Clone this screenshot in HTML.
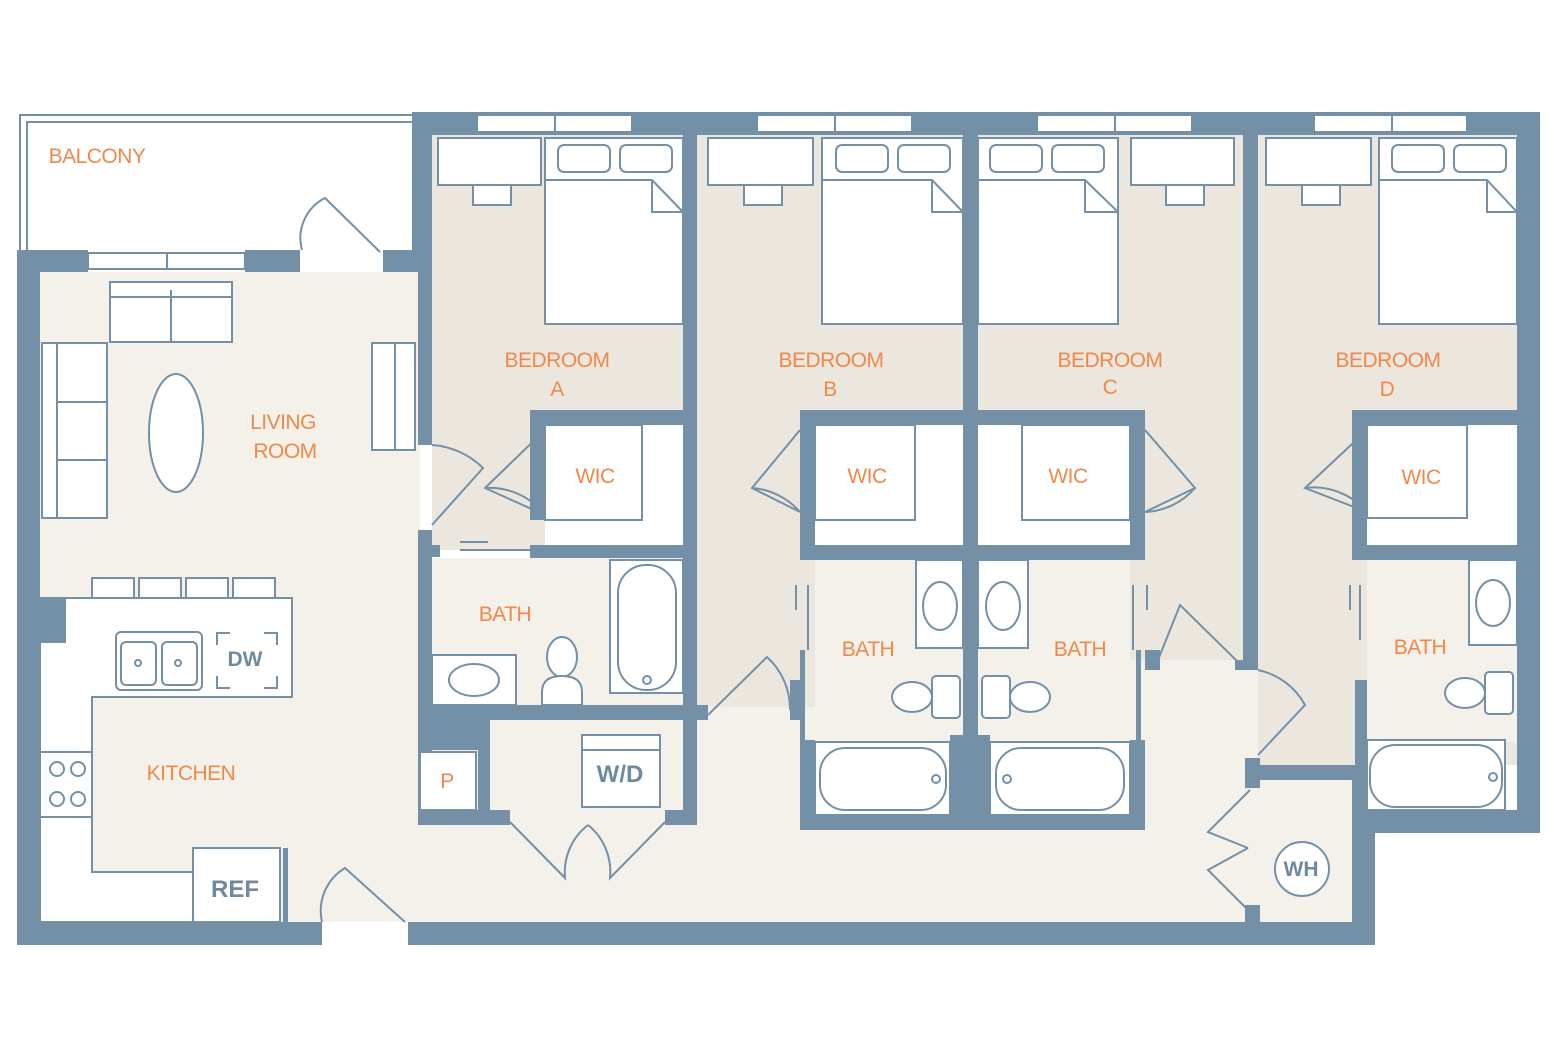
<!DOCTYPE html>
<html><head><meta charset="utf-8"><style>
html,body{margin:0;padding:0;background:#fff;}
svg{display:block}
text{font-family:"Liberation Sans",sans-serif;}
.o{fill:#f0884a;font-size:21px;text-anchor:middle;letter-spacing:-0.5px}
.b{fill:#6f8aa0;font-size:24px;font-weight:bold;text-anchor:middle}
.l{fill:none;stroke:#7490a6;stroke-width:2}
.lw{fill:#fff;stroke:#7490a6;stroke-width:2}
.w{fill:#7490a6}
</style></head><body>
<svg width="1554" height="1058" viewBox="0 0 1554 1058" xmlns="http://www.w3.org/2000/svg">
<!-- balcony -->
<path class="l" d="M20,250 V115 H412 M27,250 V122 H412" />
<!-- floors -->
<rect x="40" y="272" width="380" height="650" fill="#f3f1ea"/>
<rect x="418" y="650" width="940" height="272" fill="#f3f1ea"/>
<rect x="432" y="135" width="252" height="412" fill="#ece7de"/>
<rect x="432" y="420" width="110" height="130" fill="#ece7de"/>
<rect x="697" y="135" width="266" height="572" fill="#ece7de"/>
<rect x="978" y="135" width="266" height="525" fill="#ece7de"/>
<rect x="1258" y="135" width="260" height="630" fill="#ece7de"/>
<rect x="1145" y="560" width="100" height="100" fill="#ece7de"/>
<!-- baths / closets -->
<rect x="432" y="558" width="251" height="148" fill="#f3f1ea"/>
<rect x="490" y="720" width="193" height="92" fill="#f3f1ea"/>
<rect x="815" y="560" width="148" height="182" fill="#f3f1ea"/>
<rect x="978" y="560" width="152" height="182" fill="#f3f1ea"/>
<rect x="1367" y="560" width="150" height="182" fill="#f3f1ea"/>
<rect x="1258" y="778" width="94" height="144" fill="#f3f1ea"/>
<!-- WICs -->
<rect x="545" y="425" width="138" height="120" fill="#fff"/><rect x="545" y="425" width="97" height="95" fill="#ece7de" class="l"/>
<rect x="815" y="425" width="148" height="120" fill="#fff"/><rect x="815" y="425" width="100" height="95" fill="#ece7de" class="l"/>
<rect x="978" y="425" width="152" height="120" fill="#fff"/><rect x="1022" y="425" width="108" height="95" fill="#ece7de" class="l"/>
<rect x="1367" y="425" width="150" height="120" fill="#fff"/><rect x="1367" y="425" width="100" height="93" fill="#ece7de" class="l"/>
<!-- walls -->
<g class="w">
<rect x="17" y="250" width="71" height="22"/><rect x="245" y="250" width="55" height="22"/><rect x="383" y="250" width="49" height="22"/>
<rect x="17" y="250" width="23" height="695"/>
<rect x="17" y="922" width="305" height="23"/><rect x="408" y="922" width="967" height="23"/>
<rect x="40" y="597" width="25" height="45"/>
<rect x="412" y="112" width="1128" height="23"/>
<rect x="412" y="112" width="20" height="160"/><rect x="418" y="272" width="14" height="173"/>
<rect x="418" y="530" width="14" height="295"/><rect x="418" y="545" width="22" height="12"/>
<rect x="530" y="545" width="153" height="13"/>
<rect x="530" y="410" width="15" height="110"/><rect x="530" y="410" width="153" height="15"/>
<rect x="683" y="135" width="14" height="690"/>
<rect x="418" y="705" width="290" height="15"/>
<rect x="418" y="705" width="72" height="45"/><rect x="478" y="705" width="12" height="120"/>
<rect x="418" y="810" width="92" height="15"/><rect x="665" y="810" width="32" height="15"/>
<rect x="963" y="135" width="15" height="695"/>
<rect x="800" y="410" width="163" height="15"/><rect x="800" y="410" width="15" height="110"/><rect x="800" y="512" width="15" height="48"/>
<rect x="800" y="545" width="163" height="15"/><rect x="800" y="815" width="345" height="15"/>
<rect x="800" y="740" width="15" height="90"/><rect x="790" y="680" width="10" height="40"/><rect x="800" y="650" width="5" height="100"/>
<rect x="950" y="735" width="40" height="95"/>
<rect x="978" y="410" width="167" height="15"/><rect x="1130" y="410" width="15" height="110"/><rect x="1130" y="512" width="15" height="48"/>
<rect x="978" y="545" width="167" height="15"/><rect x="1130" y="740" width="15" height="90"/><rect x="1136" y="650" width="5" height="100"/><rect x="1145" y="650" width="15" height="20"/>
<rect x="1243" y="135" width="15" height="535"/><rect x="1235" y="660" width="23" height="10"/>
<rect x="1245" y="758" width="15" height="30"/><rect x="1245" y="905" width="15" height="20"/>
<rect x="1245" y="765" width="122" height="15"/>
<rect x="1352" y="765" width="23" height="180"/>
<rect x="1352" y="410" width="15" height="110"/><rect x="1352" y="512" width="15" height="48"/><rect x="1352" y="410" width="165" height="15"/>
<rect x="1352" y="545" width="165" height="15"/><rect x="1355" y="680" width="12" height="150"/>
<rect x="1355" y="810" width="185" height="23"/><rect x="1517" y="112" width="23" height="721"/>
</g>
<!-- windows -->
<g class="lw">
<rect x="88" y="253" width="157" height="16"/><line x1="167" y1="253" x2="167" y2="269"/>
<rect x="477" y="115" width="155" height="17"/><rect x="757" y="115" width="155" height="17"/><rect x="1037" y="115" width="155" height="17"/><rect x="1314" y="115" width="153" height="17"/>
</g>
<path class="l" d="M555,115 V132 M835,115 V132 M1115,115 V132 M1392,115 V132"/>
<!-- doors -->
<g class="l" stroke-width="3">
<path d="M302,250 A45,45 0 0 1 325,198 L380,252"/>
<path d="M432,445 A80,80 0 0 1 483,468 L432,525"/>
<path d="M545,430 L485,488 L545,515 M485,488 A70,70 0 0 1 545,515" />
<path d="M800,430 L752,488 L800,512 M752,488 A70,70 0 0 1 800,512"/>
<path d="M1145,430 L1195,488 L1145,512 M1195,488 A70,70 0 0 1 1145,512"/>
<path d="M1367,430 L1305,488 L1367,512 M1305,488 A70,70 0 0 1 1367,512"/>
<path d="M708,715 L767,657 A70,70 0 0 1 790,710"/>
<path d="M1158,660 L1180,605 L1238,662"/>
<path d="M1258,670 A70,70 0 0 1 1305,705 L1258,755"/>
<path d="M1250,790 L1208,832 L1248,848 M1250,912 L1208,870 L1248,848"/>
<path d="M322,922 A50,50 0 0 1 345,868 L405,922"/>
<path d="M510,822 L565,878 A60,60 0 0 1 588,825 M665,822 L610,878 A60,60 0 0 0 588,825"/>
</g>
<path class="l" d="M460,542 H488 M460,550 H530 M540,550 H600"/>
<path class="l" d="M796,585 V610 M1147,585 V610 M1350,585 V610 M808,585 V650 M1133,585 V650 M1360,585 V640"/>
<!-- bedroom furniture -->
<g class="lw">
<rect x="438" y="138" width="103" height="47"/><rect x="473" y="185" width="38" height="20"/>
<rect x="545" y="138" width="138" height="186"/><rect x="558" y="145" width="52" height="27" rx="6"/><rect x="620" y="145" width="52" height="27" rx="6"/><path d="M545,180 H652 L683,212 V180 M652,180 V212 H683"/>
<rect x="708" y="138" width="105" height="47"/><rect x="744" y="185" width="38" height="20"/>
<rect x="822" y="138" width="141" height="186"/><rect x="836" y="145" width="52" height="27" rx="6"/><rect x="898" y="145" width="52" height="27" rx="6"/><path d="M822,180 H932 L963,212 V180 M932,180 V212 H963"/>
<rect x="978" y="138" width="140" height="186"/><rect x="990" y="145" width="52" height="27" rx="6"/><rect x="1052" y="145" width="52" height="27" rx="6"/><path d="M978,180 H1085 L1118,212 V180 M1085,180 V212 H1118"/>
<rect x="1131" y="138" width="103" height="47"/><rect x="1166" y="185" width="38" height="20"/>
<rect x="1266" y="138" width="105" height="47"/><rect x="1302" y="185" width="38" height="20"/>
<rect x="1379" y="138" width="138" height="186"/><rect x="1392" y="145" width="52" height="27" rx="6"/><rect x="1454" y="145" width="52" height="27" rx="6"/><path d="M1379,180 H1487 L1517,212 V180 M1487,180 V212 H1517"/>
</g>
<!-- living furniture -->
<g class="lw">
<rect x="110" y="282" width="122" height="60"/><line x1="171" y1="290" x2="171" y2="342"/><line x1="110" y1="297" x2="232" y2="297"/>
<rect x="42" y="343" width="65" height="175"/><line x1="57" y1="343" x2="57" y2="518"/><line x1="57" y1="402" x2="107" y2="402"/><line x1="57" y1="460" x2="107" y2="460"/>
<ellipse cx="176" cy="433" rx="27" ry="59"/>
<rect x="372" y="343" width="43" height="107"/><line x1="395" y1="343" x2="395" y2="450"/>
</g>
<!-- kitchen -->
<g class="lw">
<rect x="92" y="578" width="42" height="20"/><rect x="139" y="578" width="42" height="20"/><rect x="186" y="578" width="42" height="20"/><rect x="233" y="578" width="42" height="20"/>
<path d="M65,598 H292 V697 H92 V872 H195 V922 H40 V642 H65 Z"/>
<rect x="116" y="632" width="86" height="58" rx="5"/><rect x="121" y="642" width="35" height="43" rx="5"/><rect x="162" y="642" width="35" height="43" rx="5"/>
<circle cx="138" cy="663" r="3"/><circle cx="178" cy="663" r="3"/>
<rect x="40" y="752" width="52" height="65"/><circle cx="57" cy="769" r="7"/><circle cx="78" cy="769" r="7"/><circle cx="57" cy="799" r="7"/><circle cx="78" cy="799" r="7"/>
<rect x="193" y="848" width="87" height="74"/>
<rect x="1275" y="842" width="54" height="54" rx="27"/>
</g>
<path class="l" d="M217,645 V633 H230 M264,633 H277 V645 M217,676 V688 H230 M264,688 H277 V676"/>
<rect x="283" y="848" width="5" height="74" class="w"/>
<!-- baths fixtures -->
<g class="lw">
<rect x="432" y="655" width="84" height="50"/><ellipse cx="474" cy="680" rx="25" ry="16"/>
<ellipse cx="562" cy="657" rx="15" ry="20"/><path d="M542,705 V692 Q542,676 562,676 Q582,676 582,692 V705 Z"/>
<rect x="610" y="560" width="73" height="133"/><rect x="618" y="565" width="58" height="125" rx="28"/><circle cx="647" cy="680" r="4"/>
<rect x="582" y="735" width="78" height="72"/><line x1="582" y1="750" x2="660" y2="750"/>
<rect x="916" y="560" width="47" height="88"/><ellipse cx="940" cy="606" rx="17" ry="24"/>
<rect x="978" y="560" width="50" height="88"/><ellipse cx="1003" cy="606" rx="17" ry="24"/>
<ellipse cx="912" cy="697" rx="20" ry="15"/><rect x="932" y="676" width="28" height="42" rx="4"/>
<ellipse cx="1030" cy="697" rx="20" ry="15"/><rect x="982" y="676" width="28" height="42" rx="4"/>
<rect x="815" y="742" width="135" height="73"/><rect x="820" y="748" width="126" height="62" rx="25"/><circle cx="936" cy="779" r="4"/>
<rect x="990" y="742" width="140" height="73"/><rect x="996" y="748" width="128" height="62" rx="25"/><circle cx="1007" cy="779" r="4"/>
<rect x="1469" y="560" width="48" height="85"/><ellipse cx="1493" cy="603" rx="17" ry="23"/>
<ellipse cx="1465" cy="693" rx="20" ry="15"/><rect x="1485" y="672" width="28" height="42" rx="4"/>
<rect x="1367" y="740" width="138" height="70"/><rect x="1370" y="745" width="132" height="62" rx="25"/><circle cx="1493" cy="777" r="4"/>
<rect x="420" y="752" width="56" height="58"/>
</g>
<!-- labels -->
<text class="o" x="97" y="163" text-anchor="start" style="text-anchor:middle">BALCONY</text>
<text class="o" x="283" y="429">LIVING</text><text class="o" x="285" y="458">ROOM</text>
<text class="o" x="557" y="367">BEDROOM</text><text class="o" x="557" y="396">A</text>
<text class="o" x="831" y="367">BEDROOM</text><text class="o" x="830" y="396">B</text>
<text class="o" x="1110" y="367">BEDROOM</text><text class="o" x="1110" y="394">C</text>
<text class="o" x="1388" y="367">BEDROOM</text><text class="o" x="1387" y="396">D</text>
<text class="o" x="595" y="483">WIC</text><text class="o" x="867" y="483">WIC</text><text class="o" x="1068" y="483">WIC</text><text class="o" x="1421" y="484">WIC</text>
<text class="o" x="505" y="621">BATH</text><text class="o" x="868" y="656">BATH</text><text class="o" x="1080" y="656">BATH</text><text class="o" x="1420" y="654">BATH</text>
<text class="o" x="191" y="780">KITCHEN</text><text class="o" x="447" y="788">P</text>
<text class="b" x="245" y="666" style="font-size:21px">DW</text>
<text class="b" x="620" y="782">W/D</text>
<text class="b" x="235" y="897">REF</text>
<text class="b" x="1301" y="876" style="font-size:21px">WH</text>
</svg>
</body></html>
